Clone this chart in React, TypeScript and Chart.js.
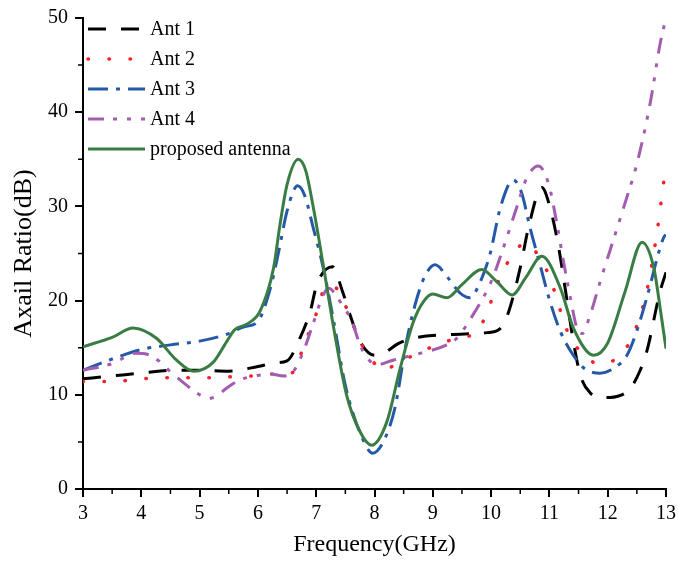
import React, { useEffect, useRef } from "react";
import { Chart, registerables } from "chart.js";

Chart.register(...registerables);

const FONT = '"Liberation Serif", "Times New Roman", Times, serif';

// ---- axes ----
const xMin = 3;
const xMax = 13;
const yMin = 0;
const yMax = 50;
const xTickStep = 1;
const yTickStep = 10;
const xTitle = "Frequency(GHz)";
const yTitle = "Axail Ratio(dB)";

// ---- series ----
const seriesNames = ["Ant 1", "Ant 2", "Ant 3", "Ant 4", "proposed antenna"];

const ant1Freq = [3, 3.5, 4, 4.5, 5, 5.5, 6, 6.3, 6.5, 6.72, 6.9, 7.01, 7.28, 7.45, 7.58, 7.75, 8.0, 8.18, 8.4, 8.66, 9.3, 9.93, 10.15, 10.3, 10.5, 10.65, 10.87, 11.01, 11.16, 11.27, 11.41, 11.53, 11.7, 11.93, 12.2, 12.39, 12.55, 12.67, 12.9, 13];
const ant1AR = [11.7, 12.0, 12.3, 12.6, 12.6, 12.5, 13.0, 13.4, 13.6, 16.0, 18.9, 21.7, 23.6, 21.0, 18.5, 15.7, 14.2, 14.5, 15.4, 16.0, 16.4, 16.6, 17.0, 18.8, 23.5, 28.0, 32.0, 29.9, 25.6, 21.3, 15.7, 12.1, 10.2, 9.7, 9.9, 10.7, 12.5, 14.6, 21.0, 23.0];

const ant2Freq = [3, 3.5, 4, 4.5, 5, 5.5, 5.9, 6.2, 6.5, 6.65, 6.81, 6.95, 7.12, 7.27, 7.4, 7.52, 7.75, 7.93, 8.15, 8.4, 8.67, 9.07, 9.41, 9.75, 9.93, 10.1, 10.33, 10.59, 10.84, 11.01, 11.19, 11.36, 11.64, 11.81, 12.16, 12.44, 12.67, 12.84, 13];
const ant2AR = [11.4, 11.4, 11.7, 11.8, 11.8, 11.9, 12.0, 12.2, 12.2, 12.8, 15.7, 17.6, 21.0, 21.7, 20.8, 19.2, 15.7, 13.9, 12.6, 13.4, 14.2, 15.3, 16.0, 16.7, 18.7, 21.7, 24.5, 26.1, 24.5, 22.4, 18.9, 16.0, 14.1, 13.3, 13.9, 16.4, 21.0, 27.0, 34.5];

const ant3Freq = [3, 3.5, 4, 4.5, 5, 5.5, 5.75, 6, 6.2, 6.35, 6.5, 6.68, 6.8, 6.95, 7.12, 7.3, 7.5, 7.75, 7.97, 8.15, 8.35, 8.55, 8.73, 8.88, 9.04, 9.25, 9.47, 9.64, 9.8, 9.98, 10.16, 10.38, 10.52, 10.67, 10.84, 11.01, 11.19, 11.41, 11.6, 11.87, 12.1, 12.33, 12.5, 12.67, 12.96, 13];
const ant3AR = [12.6, 13.8, 14.8, 15.3, 15.7, 16.5, 17.2, 17.8, 21.0, 25.0, 29.5, 32.2, 31.2, 27.7, 23.5, 17.8, 11.0, 6.0, 3.8, 5.0, 8.6, 15.7, 20.3, 22.8, 23.8, 22.5, 20.8, 20.3, 21.8, 24.9, 29.9, 32.8, 31.5, 27.7, 23.8, 19.9, 16.7, 14.2, 12.8, 12.3, 12.8, 14.2, 16.8, 20.3, 26.7, 27.0];

const ant4Freq = [3, 3.5, 3.9, 4.1, 4.3, 4.49, 4.78, 5.0, 5.15, 5.3, 5.46, 5.7, 5.95, 6.2, 6.45, 6.61, 6.78, 6.95, 7.1, 7.21, 7.41, 7.61, 7.78, 8.04, 8.33, 8.78, 9.24, 9.41, 9.72, 10.0, 10.21, 10.44, 10.61, 10.81, 10.99, 11.13, 11.24, 11.36, 11.47, 11.56, 11.7, 11.87, 12.1, 12.33, 12.5, 12.73, 12.9, 13];
const ant4AR = [12.6, 13.3, 14.4, 14.3, 13.6, 12.5, 11.0, 10.0, 9.6, 9.9, 10.7, 11.6, 12.0, 12.2, 12.0, 12.5, 14.6, 17.6, 20.3, 21.3, 19.9, 17.8, 14.9, 13.2, 13.7, 14.4, 15.3, 16.0, 18.8, 22.0, 25.6, 29.9, 33.0, 34.3, 32.3, 28.1, 24.2, 20.3, 17.1, 16.5, 18.5, 22.0, 26.5, 31.0, 34.5, 41.0, 47.3, 50.0];

const propFreq = [3, 3.5, 3.86, 4.26, 4.6, 4.9, 5.24, 5.47, 5.6, 5.81, 6.04, 6.27, 6.38, 6.5, 6.69, 6.82, 6.95, 7.12, 7.3, 7.52, 7.75, 7.95, 8.21, 8.44, 8.67, 8.84, 9.0, 9.24, 9.5, 9.84, 10.1, 10.36, 10.6, 10.87, 11.19, 11.41, 11.76, 12.0, 12.3, 12.59, 12.79, 12.9, 13];
const propAR = [15.1, 16.1, 17.1, 16.0, 13.7, 12.5, 13.5, 15.7, 16.9, 17.5, 18.9, 23.5, 28.1, 32.3, 35.0, 33.8, 29.9, 23.8, 17.1, 10.0, 6.1, 4.65, 7.1, 12.8, 17.8, 19.9, 20.7, 20.3, 21.7, 23.3, 22.0, 20.6, 22.5, 24.7, 21.3, 17.1, 14.2, 15.5, 21.0, 26.2, 23.5, 19.2, 14.9];

const toPts = (xs: number[], ys: number[]) => xs.map((x, i) => ({ x, y: ys[i] }));

const legendPlugin = {
  id: "insideLegend",
  afterDraw(chart: any) {
    const { ctx, chartArea } = chart;
    const x0 = chartArea.left + 5;
    const x1 = chartArea.left + 62;
    ctx.save();
    chart.data.datasets.forEach((ds: any, i: number) => {
      const y = chartArea.top + 11 + i * 30;
      ctx.beginPath();
      ctx.strokeStyle = ds.borderColor;
      ctx.lineWidth = ds.borderWidth;
      ctx.lineCap = ds.borderCapStyle || "butt";
      ctx.setLineDash(ds.borderDash || []);
      ctx.moveTo(x0, y);
      ctx.lineTo(x1, y);
      ctx.stroke();
      ctx.setLineDash([]);
      ctx.fillStyle = "#000";
      ctx.font = `20px ${FONT}`;
      ctx.textBaseline = "middle";
      ctx.textAlign = "left";
      ctx.fillText(ds.label, x1 + 5, y + 1);
    });
    ctx.restore();
  },
};

const minorTickPlugin = {
  id: "minorTicks",
  afterDraw(chart: any) {
    const { ctx, chartArea, scales } = chart;
    ctx.save();
    ctx.strokeStyle = "#000";
    ctx.lineWidth = 1.5;
    ctx.beginPath();
    for (let v = xMin + xTickStep / 2; v < xMax; v += xTickStep) {
      const px = scales.x.getPixelForValue(v);
      ctx.moveTo(px, chartArea.bottom);
      ctx.lineTo(px, chartArea.bottom + 5);
    }
    for (let v = yMin + yTickStep / 2; v < yMax; v += yTickStep) {
      const py = scales.y.getPixelForValue(v);
      ctx.moveTo(chartArea.left, py);
      ctx.lineTo(chartArea.left - 5, py);
    }
    ctx.stroke();
    ctx.restore();
  },
};

export default function App() {
  const ref = useRef<HTMLCanvasElement | null>(null);

  useEffect(() => {
    if (!ref.current) return;
    const common = { pointRadius: 0, fill: false, cubicInterpolationMode: "monotone" as const };
    const chart = new Chart(ref.current, {
      type: "line",
      data: {
        datasets: [
          { ...common, label: seriesNames[0], data: toPts(ant1Freq, ant1AR), borderColor: "#000000", borderWidth: 3, borderDash: [18, 15], order: 4 },
          { ...common, label: seriesNames[1], data: toPts(ant2Freq, ant2AR), borderColor: "#f4222a", borderWidth: 3.5, borderDash: [0.5, 20.5], borderCapStyle: "round", order: 3 },
          { ...common, label: seriesNames[2], data: toPts(ant3Freq, ant3AR), borderColor: "#2459a9", borderWidth: 3, borderDash: [20, 8, 4, 8], order: 2 },
          { ...common, label: seriesNames[3], data: toPts(ant4Freq, ant4AR), borderColor: "#a35cb0", borderWidth: 3, borderDash: [16, 9, 4, 10, 4, 10], order: 1 },
          { ...common, label: seriesNames[4], data: toPts(propFreq, propAR), borderColor: "#3a7d44", borderWidth: 3, order: 0 },
        ],
      },
      options: {
        responsive: false,
        animation: false,
        layout: { padding: { top: 18, right: 12, left: 0, bottom: 0 } },
        plugins: { legend: { display: false }, tooltip: { enabled: false } },
        scales: {
          x: {
            type: "linear",
            min: xMin,
            max: xMax,
            afterFit: (s: any) => { s.height = 74; s.paddingLeft = 0; s.paddingRight = 0; },
            ticks: { stepSize: xTickStep, autoSkip: false, color: "#000", font: { family: FONT, size: 20 }, padding: 5, maxRotation: 0 },
            grid: { drawOnChartArea: false, drawTicks: true, tickLength: 8, color: "#000", lineWidth: 2 },
            border: { display: true, color: "#000", width: 2 },
            title: { display: true, text: xTitle, color: "#000", font: { family: FONT, size: 24 }, padding: { top: 0, bottom: 4 } },
          },
          y: {
            type: "linear",
            min: yMin,
            max: yMax,
            afterFit: (s: any) => { s.width = 83; s.paddingTop = 0; s.paddingBottom = 0; },
            ticks: { stepSize: yTickStep, color: "#000", font: { family: FONT, size: 20 }, padding: 7 },
            grid: { drawOnChartArea: false, drawTicks: true, tickLength: 8, color: "#000", lineWidth: 2 },
            border: { display: true, color: "#000", width: 2 },
            title: { display: true, text: yTitle, color: "#000", font: { family: FONT, size: 26 }, padding: { top: 9, bottom: 0 } },
          },
        },
      },
      plugins: [legendPlugin, minorTickPlugin],
    });
    return () => chart.destroy();
  }, []);

  return (
    <div style={{ position: "fixed", left: 0, top: 0, width: 678, height: 563, background: "#fff" }}>
      <canvas ref={ref} width={678} height={563} style={{ display: "block" }} />
    </div>
  );
}
